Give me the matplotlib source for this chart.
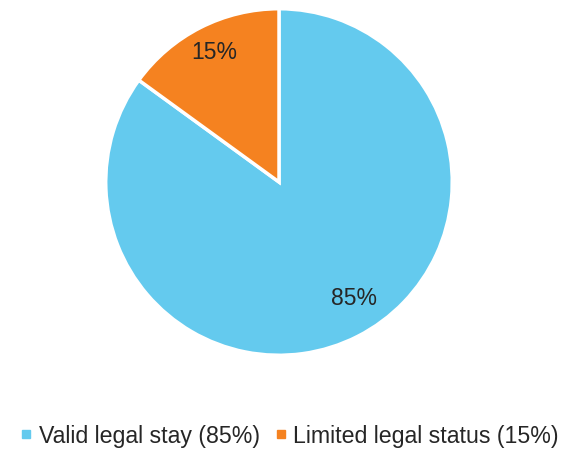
import matplotlib.pyplot as plt
from matplotlib.lines import Line2D

plt.rcParams['font.family'] = ['Liberation Sans', 'DejaVu Sans']

labels = ['Valid legal stay (85%)', 'Limited legal status (15%)']
values = [85, 15]
pct_labels = ['85%', '15%']
colors = ['#64caee', '#f58220']

fig = plt.figure(figsize=(5.71, 4.5), dpi=100)
W, H = 571, 450
cx, cy, r = 279, 182, 175
ax = fig.add_axes([(cx - r) / W, (H - cy - r) / H, 2 * r / W, 2 * r / H])

wedges, _ = ax.pie(values, colors=colors, startangle=90, counterclock=False,
                   radius=1, wedgeprops=dict(edgecolor='white', linewidth=2.5))
ax.set_xlim(-1.01, 1.01)
ax.set_ylim(-1.01, 1.01)
ax.set_aspect('equal')
ax.axis('off')

# percentage labels
label_pos = [(0.435, -0.67), (-0.375, 0.745)]
for txt, (x, y) in zip(pct_labels, label_pos):
    ax.text(x, y, txt, ha='center', va='center', fontsize=16.5, color='#262626')

handles = [Line2D([], [], marker='s', linestyle='none', markersize=5.5,
                  markerfacecolor=c, markeredgecolor=c) for c in colors]
fig.legend(handles, labels, loc='center', bbox_to_anchor=(0.506, 1 - 436 / H),
           ncol=2, frameon=False, fontsize=16.7, handletextpad=0.25,
           columnspacing=0.6, handlelength=0.6, labelcolor='#262626')

fig.savefig('out.png', dpi=100)
